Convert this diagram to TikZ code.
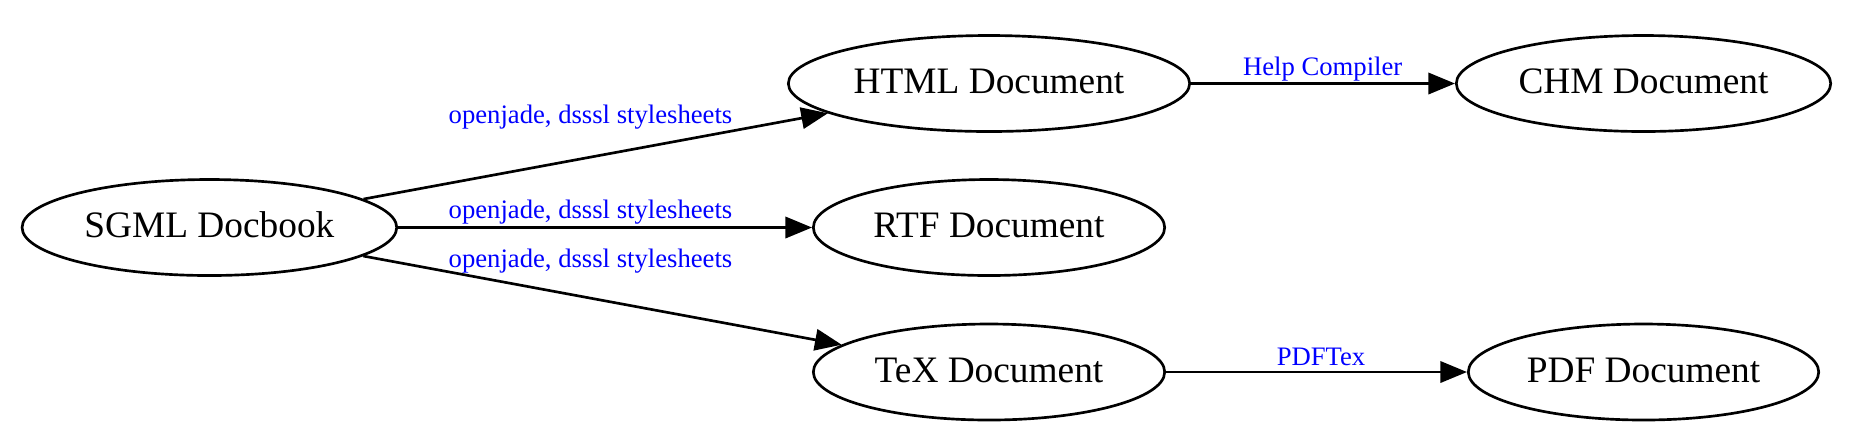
\documentclass[tikz,border=0pt]{standalone}
\usepackage{fontspec}
\setmainfont{Liberation Serif}
\usetikzlibrary{arrows.meta,shapes.geometric}
\definecolor{lblue}{RGB}{0,0,255}
\begin{document}
\begin{tikzpicture}[x=0.375pt,y=-0.375pt,
  docnode/.style={draw, ellipse, line width=1pt, inner sep=0pt, minimum height=36pt,
    font=\fontsize{14}{16}\selectfont, text height=10.5pt, text depth=3pt},
  edgelbl/.style={anchor=base, inner sep=0pt, text=lblue, font=\fontsize{10}{12}\selectfont},
  conn/.style={-{Triangle[length=10pt,width=8pt]}, line width=1pt}]
\useasboundingbox (0,0) rectangle (1874,446);
\node[docnode, minimum width=140.5pt] (sgml) at (209.4,227.5) {SGML Docbook};
\node[docnode, minimum width=150.5pt] (html) at (989,83.5) {HTML Document};
\node[docnode, minimum width=131.75pt] (rtf) at (989,227.5) {RTF Document};
\node[docnode, minimum width=131.75pt] (tex) at (989,372) {TeX Document};
\node[docnode, minimum width=140.4pt] (chm) at (1643.5,83.5) {CHM Document};
\node[docnode, minimum width=131.4pt] (pdf) at (1643.5,372) {PDF Document};
\draw[conn] (sgml) -- (html);
\draw[conn] (sgml) -- (rtf);
\draw[conn] (sgml) -- (tex);
\draw[conn] (html) -- (chm);
\draw[conn] (tex) -- (pdf);
\node[edgelbl] (l1) at (590.5,123.3) {openjade, dsssl stylesheets};
\node[edgelbl] (l2) at (590.5,218.3) {openjade, dsssl stylesheets};
\node[edgelbl] (l3) at (590.5,267.7) {openjade, dsssl stylesheets};
\node[edgelbl] (l4) at (1322.7,75.7) {Help Compiler};
\node[edgelbl] (l5) at (1321,365) {PDFTex};
\end{tikzpicture}
\end{document}
